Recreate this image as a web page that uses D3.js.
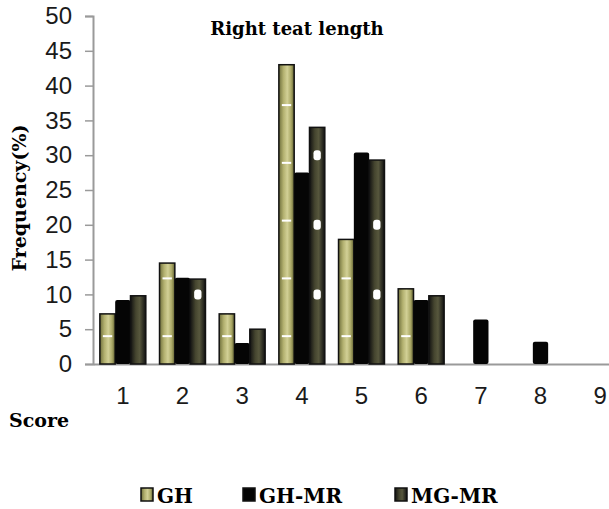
<!DOCTYPE html>
<html>
<head>
<meta charset="utf-8">
<script src="https://cdn.jsdelivr.net/npm/d3@7"></script>
<style>
  body { margin: 0; background: #fff; }
  text { font-family: "Liberation Sans", Arial, sans-serif; }
  .serif { font-family: "DejaVu Serif", "Liberation Serif", serif; font-weight: bold; }
</style>
</head>
<body>
<script>
var width = 609,
    height = 509;

// data
var scores = ["1", "2", "3", "4", "5", "6", "7", "8", "9"];
var series = ["GH", "GH-MR", "MG-MR"];
var gh   = [7.2, 14.5, 7.2, 43, 17.9, 10.8, 0, 0, 0];
var ghmr = [9.2, 12.4, 3.0, 27.5, 30.4, 9.2, 6.4, 3.2, 0];
var mgmr = [9.8, 12.2, 5.0, 34.0, 29.3, 9.8, 0, 0, 0];
var yTicks = [0, 5, 10, 15, 20, 25, 30, 35, 40, 45, 50];

var values = [gh, ghmr, mgmr];

var svg = d3.select("body").append("svg")
    .attr("width", width)
    .attr("height", height);

var defs = svg.append("defs");

var g1 = defs.append("linearGradient").attr("id", "gGH");
g1.append("stop").attr("offset", "0%").attr("stop-color", "#6f6f3c");
g1.append("stop").attr("offset", "30%").attr("stop-color", "#b3b170");
g1.append("stop").attr("offset", "55%").attr("stop-color", "#d2d096");
g1.append("stop").attr("offset", "80%").attr("stop-color", "#aaa866");
g1.append("stop").attr("offset", "100%").attr("stop-color", "#5e5e30");

var g3 = defs.append("linearGradient").attr("id", "gMG");
g3.append("stop").attr("offset", "0%").attr("stop-color", "#111");
g3.append("stop").attr("offset", "35%").attr("stop-color", "#45452f");
g3.append("stop").attr("offset", "60%").attr("stop-color", "#57573d");
g3.append("stop").attr("offset", "100%").attr("stop-color", "#111");

var fills = ["url(#gGH)", "#050505", "url(#gMG)"];

var x = d3.scaleBand()
    .domain(scores)
    .range([93, 630])
    .paddingInner(0.23)
    .paddingOuter(0.115);

var xs = d3.scaleBand()
    .domain(series)
    .range([0, x.bandwidth()]);

var y = d3.scaleLinear()
    .domain([0, 50])
    .range([364, 16]);

// y axis
var yAxis = svg.append("g")
    .attr("transform", "translate(93,0)")
    .call(d3.axisLeft(y).tickValues(yTicks).tickSize(8).tickPadding(13));
yAxis.select(".domain").attr("stroke", "#9a9a9a").attr("stroke-width", 2);
yAxis.selectAll(".tick line").attr("stroke", "#9a9a9a").attr("stroke-width", 1.5);
yAxis.selectAll(".tick text")
    .style("font-size", "24px").attr("fill", "#1a1a1a");

// x baseline
var xAxis = svg.append("g")
    .attr("transform", "translate(0,364)")
    .call(d3.axisBottom(x).tickSize(0).tickPadding(23));
xAxis.select(".domain").attr("stroke", "#9a9a9a").attr("stroke-width", 2);
xAxis.selectAll(".tick text")
    .style("font-size", "24px").attr("fill", "#1a1a1a");

// bars
var groups = svg.append("g").selectAll("g")
    .data(scores)
  .enter().append("g")
    .attr("transform", function(d) { return "translate(" + x(d) + ",0)"; });

groups.each(function(score, i) {
  var grp = d3.select(this);
  series.forEach(function(s, k) {
    var v = values[k][i];
    if (!v) return;
    var bx = xs(s), bw = xs.bandwidth();
    grp.append("rect")
      .attr("x", bx)
      .attr("y", y(v))
      .attr("width", bw)
      .attr("height", y(0) - y(v))
      .attr("fill", fills[k])
      .attr("stroke", "#111")
      .attr("stroke-width", k == 1 ? 0 : 1.5)
      .attr("rx", k == 1 ? 2 : 0);
    if (k == 0) {
      // little white marks on GH bars
      d3.range(4, v, 8.3).forEach(function(m) {
        grp.append("rect")
          .attr("x", bx + 3).attr("y", y(m) - 1)
          .attr("width", bw - 6).attr("height", 2)
          .attr("fill", "#fff");
      });
    }
    if (k == 2) {
      d3.range(10, v - 2, 10).forEach(function(m) {
        grp.append("rect")
          .attr("x", bx + 4).attr("y", y(m) - 5)
          .attr("width", bw - 8).attr("height", 10)
          .attr("rx", 3).attr("fill", "#fff");
      });
    }
  });
});

// title
svg.append("text")
    .attr("class", "serif")
    .attr("x", 297).attr("y", 35)
    .attr("text-anchor", "middle")
    .style("font-size", "18px")
    .text("Right teat length");

// y label
svg.append("text")
    .attr("class", "serif")
    .attr("transform", "translate(26,198) rotate(-90)")
    .attr("text-anchor", "middle")
    .style("font-size", "19px")
    .text("Frequency(%)");

// x label
svg.append("text")
    .attr("class", "serif")
    .attr("x", 9).attr("y", 427)
    .style("font-size", "19px")
    .text("Score");

// legend
var legX = [141, 243, 395];
var leg = svg.append("g").selectAll("g")
    .data(series)
  .enter().append("g")
    .attr("transform", function(d, i) { return "translate(" + legX[i] + ",488)"; });
leg.append("rect")
    .attr("width", 12).attr("height", 13)
    .attr("fill", function(d, i) { return fills[i]; })
    .attr("stroke", "#111").attr("stroke-width", 1.5);
leg.append("text")
    .attr("class", "serif")
    .attr("x", 16).attr("y", 15)
    .style("font-size", "20px")
    .text(function(d) { return d; });
</script>
</body>
</html>
